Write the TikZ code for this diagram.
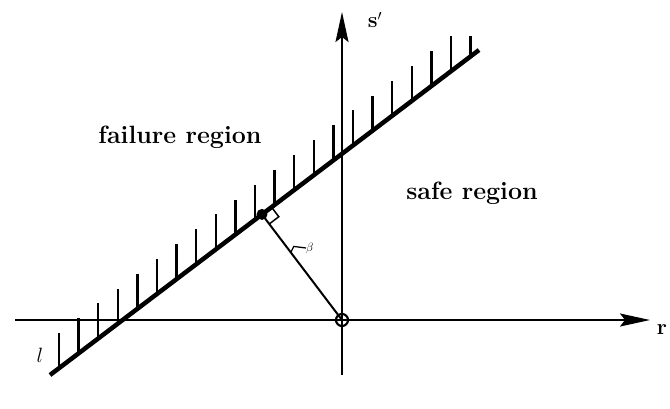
\documentclass[tikz,border=0pt]{standalone}
\usetikzlibrary{calc,arrows.meta}
\begin{document}
\begin{tikzpicture}[x=1pt,y=-1pt,
  axis/.style={line width=1.8pt,-{Stealth[length=30pt,width=13pt,inset=5pt]}},
  limitline/.style={line width=4.5pt},
  hatch/.style={line width=2.5pt},
  perp/.style={line width=2pt},
  regionlabel/.style={font=\fontsize{25}{30}\selectfont\bfseries,inner sep=0pt},
  axislabel/.style={font=\fontsize{22}{26}\selectfont\bfseries,inner sep=0pt}]
\useasboundingbox (0,0) rectangle (670,408);
% axes
\coordinate (O) at (342,320);
\coordinate (hx1) at (15,320);
\coordinate (hx2) at (650,320);
\coordinate (vy1) at (342,375);
\coordinate (vy2) at (342,12);
\draw[axis] (hx1) -- (hx2);
\draw[axis] (vy1) -- (vy2);
\node[axislabel] (r) at (662,330) {r};
\node[axislabel] (s) at (375,20) {s$'$};
% limit state line
\coordinate (L1) at (50,375);
\coordinate (L2) at (479,50);
\draw[limitline] (L1) -- (L2);
\foreach \i in {0,...,20}{
  \pgfmathsetmacro{\t}{(9+19.6*\i)/429}
  \draw[hatch] ($(L1)!\t!(L2)$) -- ++(0,-35);
}
\pgfmathsetmacro{\t}{(9+19.6*21)/429}
\draw[hatch] ($(L1)!\t!(L2)$) -- ++(0,-20);
\node[axislabel] (l) at (40,355) {$l$};
% perpendicular
\coordinate (F) at ($(L1)!(O)!(L2)$);
\draw[perp] (F) -- (O);
\draw[line width=1.5pt] ($(F)!12pt!(L2)$) -- ($($(F)!12pt!(L2)$)!12pt!90:(F)$) -- ($(F)!12pt!(O)$);
\fill (F) circle (5.5pt);
\draw[line width=2.2pt] (O) circle (6pt);
% beta leader
\coordinate (bl) at ($(F)!0.36!(O)$);
\node[font=\fontsize{13}{15}\selectfont,inner sep=0pt,anchor=west] (beta) at (306,248) {$\beta$};
\draw[line width=1.3pt] (bl) -- ++(3,-6) -- (beta.west);
% region labels
\node[regionlabel] (fail) at (180,137) {failure region};
\node[regionlabel] (safe) at (472,193) {safe region};
\end{tikzpicture}
\end{document}
